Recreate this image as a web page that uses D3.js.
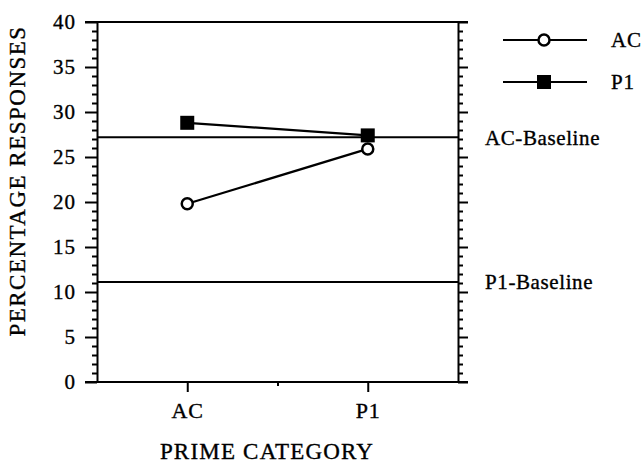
<!DOCTYPE html>
<html>
<head>
<meta charset="utf-8">
<script src="https://cdn.jsdelivr.net/npm/d3@7"></script>
<style>
  body { margin: 0; background: #fff; }
  text { font-family: "Liberation Serif", "Times New Roman", serif; fill: #000; stroke: #000; stroke-width: 0.35px; }
</style>
</head>
<body>
<svg id="chart" width="644" height="463"></svg>
<script>
// Data
var primes = ['AC', 'P1'];
var acValues = [19.8, 25.9];
var p1Values = [28.8, 27.4];
var baselineNames = ['AC-Baseline', 'P1-Baseline'];
var baselineValues = [27.2, 11.1];
var yTicks = [0, 5, 10, 15, 20, 25, 30, 35, 40];

var svg = d3.select('#chart');

// Scales: categories sit at positions 1 and 3 on a 0..4 axis
var xScale = d3.scaleLinear().domain([0, 4]).range([97, 458]);
var yScale = d3.scaleLinear().domain([0, 40]).range([382, 22]);
var xPos = function(i) { return xScale(2 * i + 1); };

var minor = d3.range(0, 41, 1).filter(function(v) { return v % 5 != 0; });

// Left axis: major ticks outward with labels
svg.append('g')
    .attr('transform', 'translate(' + xScale(0) + ',0)')
    .call(d3.axisLeft(yScale).tickValues(yTicks).tickSize(12).tickPadding(9).tickSizeOuter(0))
    .call(function(g) {
        g.select('.domain').attr('stroke-width', 2);
        g.selectAll('.tick line').attr('stroke-width', 2);
        g.selectAll('text').attr('font-size', null).attr('font-family', null)
            .style('font-size', '21px').style('letter-spacing', '1px').attr('fill', '#000');
    });

// Left minor ticks
svg.append('g')
    .attr('transform', 'translate(' + xScale(0) + ',0)')
    .call(d3.axisLeft(yScale).tickValues(minor).tickSize(5).tickFormat(''))
    .call(function(g) {
        g.select('.domain').remove();
        g.selectAll('.tick line').attr('stroke-width', 2);
    });

// Right axis: no labels
svg.append('g')
    .attr('transform', 'translate(' + xScale(4) + ',0)')
    .call(d3.axisRight(yScale).tickValues(yTicks).tickSize(10).tickFormat('').tickSizeOuter(0))
    .call(function(g) {
        g.select('.domain').attr('stroke-width', 2);
        g.selectAll('.tick line').attr('stroke-width', 2);
    });

svg.append('g')
    .attr('transform', 'translate(' + xScale(4) + ',0)')
    .call(d3.axisRight(yScale).tickValues(minor).tickSize(5).tickFormat(''))
    .call(function(g) {
        g.select('.domain').remove();
        g.selectAll('.tick line').attr('stroke-width', 2);
    });

// Top border
svg.append('line')
    .attr('x1', xScale(0) - 12).attr('x2', xScale(4) + 10)
    .attr('y1', yScale(40)).attr('y2', yScale(40))
    .attr('stroke', '#000').attr('stroke-width', 2);

// Bottom axis
svg.append('g')
    .attr('transform', 'translate(0,' + yScale(0) + ')')
    .call(d3.axisBottom(xScale).tickValues([1, 3]).tickSize(10).tickPadding(10)
        .tickFormat(function(d) { return primes[(d - 1) / 2]; }).tickSizeOuter(0))
    .call(function(g) {
        g.select('.domain').remove();
        g.selectAll('.tick line').attr('stroke-width', 2);
        g.selectAll('text').attr('font-size', null).attr('font-family', null)
            .style('font-size', '22px').style('letter-spacing', '1px').attr('fill', '#000');
    });

svg.append('g')
    .attr('transform', 'translate(0,' + yScale(0) + ')')
    .call(d3.axisBottom(xScale).tickValues([2]).tickSize(4).tickFormat(''))
    .call(function(g) {
        g.select('.domain').remove();
        g.selectAll('.tick line').attr('stroke-width', 2);
    });

svg.append('line')
    .attr('x1', xScale(0) - 12).attr('x2', xScale(4) + 10)
    .attr('y1', yScale(0)).attr('y2', yScale(0))
    .attr('stroke', '#000').attr('stroke-width', 2);

// Baselines
baselineValues.forEach(function(v, i) {
    svg.append('line')
        .attr('x1', xScale(0)).attr('x2', xScale(4))
        .attr('y1', yScale(v)).attr('y2', yScale(v))
        .attr('stroke', '#000').attr('stroke-width', 2);
    svg.append('text')
        .attr('x', xScale(4) + 27)
        .attr('y', yScale(v))
        .attr('dy', '0.35em')
        .style('font-size', '21px')
        .style('letter-spacing', '0.6px')
        .text(baselineNames[i]);
});

// Series lines
var line = d3.line()
    .x(function(d, i) { return xPos(i); })
    .y(function(d) { return yScale(d); });

svg.append('path').datum(p1Values)
    .attr('d', line).attr('fill', 'none')
    .attr('stroke', '#000').attr('stroke-width', 2.2);

svg.append('path').datum(acValues)
    .attr('d', line).attr('fill', 'none')
    .attr('stroke', '#000').attr('stroke-width', 2.2);

// Markers
svg.selectAll('.p1-mark').data(p1Values).enter()
    .append('rect')
    .attr('class', 'p1-mark')
    .attr('x', function(d, i) { return xPos(i) - 7; })
    .attr('y', function(d) { return yScale(d) - 7; })
    .attr('width', 14).attr('height', 14)
    .attr('fill', '#000');

svg.selectAll('.ac-mark').data(acValues).enter()
    .append('circle')
    .attr('class', 'ac-mark')
    .attr('cx', function(d, i) { return xPos(i); })
    .attr('cy', function(d) { return yScale(d); })
    .attr('r', 5.5)
    .attr('fill', '#fff')
    .attr('stroke', '#000').attr('stroke-width', 2.5);

// Axis titles
svg.append('text')
    .attr('transform', 'translate(25,' + 181 + ')rotate(-90)')
    .attr('text-anchor', 'middle')
    .style('font-size', '23px')
    .style('letter-spacing', '1.5px')
    .text('PERCENTAGE RESPONSES');

svg.append('text')
    .attr('x', 267).attr('y', 459)
    .attr('text-anchor', 'middle')
    .style('font-size', '23px')
    .style('letter-spacing', '1.2px')
    .text('PRIME CATEGORY');

// Legend
var legend = svg.append('g');
var legendY = [40, 82];
legend.selectAll('line').data(legendY).enter()
    .append('line')
    .attr('x1', 503).attr('x2', 587)
    .attr('y1', function(d) { return d; }).attr('y2', function(d) { return d; })
    .attr('stroke', '#000').attr('stroke-width', 2.2);

legend.append('circle')
    .attr('cx', 544).attr('cy', legendY[0]).attr('r', 5.5)
    .attr('fill', '#fff').attr('stroke', '#000').attr('stroke-width', 2.5);

legend.append('rect')
    .attr('x', 537).attr('y', legendY[1] - 7).attr('width', 14).attr('height', 14)
    .attr('fill', '#000');

legend.selectAll('text').data(['AC', 'P1']).enter()
    .append('text')
    .attr('x', 611)
    .attr('y', function(d, i) { return legendY[i]; })
    .attr('dy', '0.35em')
    .style('font-size', '21px')
    .style('letter-spacing', '0.8px')
    .text(function(d) { return d; });
</script>
</body>
</html>
